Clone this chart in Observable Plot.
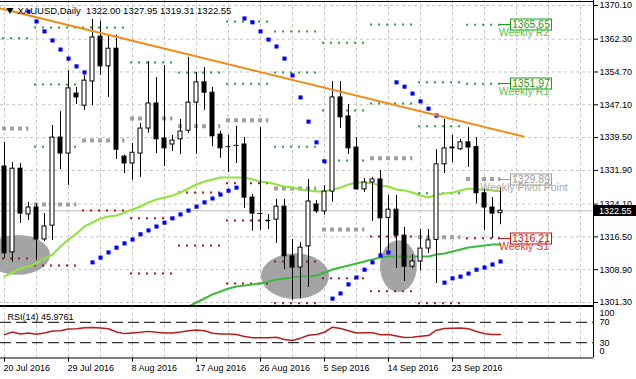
<!DOCTYPE html>
<html>
<head>
<meta charset="utf-8">
<script src="https://cdn.jsdelivr.net/npm/d3@7"></script>
<script src="https://cdn.jsdelivr.net/npm/@observablehq/plot@0.6"></script>
<style>
html,body{margin:0;padding:0;background:#fff;overflow:hidden;}
#wrap{width:636px;height:379px;position:relative;}
#wrap svg{display:block;}
.sep{height:2px;width:594px;background:#000;}
</style>
</head>
<body>
<div id="wrap"></div>
<script>
const FONT = "'Liberation Sans', Arial, sans-serif";

// ---------- data ----------
const title = "XAUUSD,Daily\u00a0\u00a01322.00 1327.95 1319.31 1322.55";
const dateLabels = ["20 Jul 2016","29 Jul 2016","8 Aug 2016","17 Aug 2016","26 Aug 2016","5 Sep 2016","14 Sep 2016","23 Sep 2016"];
const dateLabelBars = [0,8,16,24,32,40,48,56];
const gridBars = [0,4,8,12,16,20,24,28,32,36,40,44,48,52,56,60,64,68,72];
const priceTicks = [1370.10,1362.30,1354.70,1347.10,1339.50,1331.90,1324.10,1316.50,1308.90,1301.30];

const open  = [1332.8,1312.9,1332.3,1321.7,1323.3,1315.9,1319.1,1339.5,1335.8,1349.7,1346.9,1352.5,1362.9,1356.0,1360.1,1335.1,1333.5,1335.8,1341.6,1347.4,1339.3,1337.9,1339.1,1341.1,1347.6,1352.3,1349.9,1340.2,1337.4,1337.7,1337.9,1325.6,1321.9,1320.3,1320.5,1323.5,1312.0,1309.4,1314.3,1324.0,1322.4,1327.0,1348.8,1344.4,1337.2,1327.5,1329.1,1329.8,1320.9,1322.8,1316.8,1309.6,1310.8,1313.8,1315.8,1333.3,1337.0,1336.8,1338.4,1337.3,1326.6,1323.3,1322.00];
const high  = [1338.4,1333.7,1333.5,1324.5,1324.2,1321.9,1342.3,1345.5,1355.0,1351.1,1353.9,1366.9,1366.4,1363.2,1363.2,1335.4,1338.1,1342.8,1357.1,1353.4,1356.2,1340.0,1343.7,1358.1,1354.6,1355.7,1351.1,1340.9,1340.0,1342.1,1339.5,1326.3,1341.8,1321.7,1325.2,1325.2,1315.9,1315.2,1329.8,1324.9,1328.4,1352.5,1352.5,1347.2,1339.5,1330.0,1330.3,1331.9,1326.1,1326.1,1318.7,1312.4,1318.2,1318.2,1336.7,1343.7,1340.0,1339.1,1341.8,1339.5,1327.5,1325.6,1327.95];
const low   = [1311.5,1310.6,1319.6,1320.3,1311.0,1315.4,1315.7,1332.1,1328.4,1347.2,1345.8,1346.9,1353.9,1348.8,1334.4,1331.2,1329.6,1330.3,1340.5,1335.8,1332.8,1336.3,1335.6,1340.5,1335.6,1345.8,1337.4,1334.7,1331.4,1333.5,1323.1,1317.8,1318.0,1318.2,1315.0,1308.9,1301.8,1302.2,1304.8,1321.9,1321.5,1324.5,1341.6,1335.6,1327.3,1326.8,1320.1,1312.4,1313.3,1309.2,1306.2,1309.2,1308.7,1312.6,1305.7,1331.2,1333.7,1336.5,1332.6,1324.2,1318.0,1316.1,1319.31];
const close = [1312.7,1332.3,1321.9,1323.3,1315.9,1318.9,1339.5,1335.8,1350.9,1348.8,1352.7,1362.7,1356.0,1360.1,1336.7,1333.5,1336.0,1341.6,1347.4,1339.1,1337.0,1338.8,1340.9,1347.6,1352.3,1349.9,1339.8,1337.0,1337.4,1337.7,1325.6,1321.9,1321.9,1320.3,1323.5,1312.0,1309.4,1314.0,1324.7,1322.4,1327.0,1348.8,1344.2,1337.0,1327.5,1329.1,1329.8,1320.8,1322.8,1316.8,1309.6,1310.8,1313.8,1315.7,1333.3,1337.0,1337.2,1338.4,1337.2,1326.6,1323.3,1321.9,1322.55];

const sar = [null,null,null,1368.7,1366.4,1364.1,1362.0,1359.9,1357.8,1356.0,1354.6,1310.6,1311.7,1312.9,1314.0,1315.0,1315.9,1317.1,1318.0,1318.9,1319.8,1320.8,1321.7,1322.6,1323.5,1324.5,1325.4,1326.3,1327.2,1327.9,1367.1,1366.2,1364.1,1362.2,1360.6,1357.8,1353.9,1348.8,1343.2,1338.4,1334.0,1302.2,1303.4,1305.5,1307.1,1308.9,1310.6,1312.2,1312.9,1352.3,1351.3,1349.7,1347.9,1346.2,1344.6,1305.9,1306.9,1307.3,1308.0,1308.9,1309.4,1310.1,1310.8];

const maFast = [1307.33,1308.25,1309.18,1309.64,1310.34,1311.50,1312.42,1314.27,1315.90,1317.29,1318.91,1319.83,1320.76,1321.22,1321.46,1322.15,1322.85,1323.54,1324.47,1325.16,1325.63,1326.09,1326.78,1327.71,1328.64,1329.33,1329.79,1330.26,1330.26,1330.26,1330.26,1329.79,1329.33,1329.10,1328.64,1328.17,1327.94,1327.48,1327.25,1327.01,1327.01,1327.48,1327.94,1328.64,1329.10,1329.10,1328.87,1328.40,1328.17,1327.48,1327.25,1326.78,1326.09,1325.63,1326.32,1326.55,1326.78,1327.25,1327.71,1327.48,1327.48,1327.25,1327.01];
const maSlow = [null,null,null,null,null,null,null,null,null,null,null,null,null,null,null,null,null,null,null,null,null,null,1299.45,1300.37,1301.30,1302.23,1303.16,1303.85,1304.55,1305.01,1305.24,1305.47,1305.70,1306.17,1306.63,1306.86,1307.09,1307.33,1307.33,1307.56,1308.25,1308.95,1309.41,1309.87,1310.34,1310.80,1311.26,1311.73,1311.96,1311.96,1311.96,1311.96,1311.96,1311.96,1312.42,1312.65,1313.12,1313.58,1314.04,1314.27,1314.51,1314.74,1314.74];

const rsi = [45.9,51.0,47.1,49.0,46.5,49.0,52.9,53.5,56.7,57.3,59.2,59.8,58.6,57.3,51.0,47.8,49.0,50.3,52.2,50.3,49.0,49.0,51.0,53.5,54.8,53.5,48.4,47.1,47.1,45.9,42.1,39.5,39.5,39.5,40.8,36.3,34.4,38.9,44.6,45.9,50.5,60.5,58.0,53.5,49.0,49.5,49.5,45.5,46.0,43.0,40.0,40.5,42.5,44.0,54.5,58.0,58.5,59.0,57.5,52.0,47.5,46.0,45.98];
const rsiLevels = [70,30];
const rsiLabel = "RSI(14) 45.9761";

// weekly pivot segments
const weekStart = [0,4,10,16,22,28,34,40,46,52,58];
const weekEnd   = [3,9,15,21,27,33,39,45,51,57,62];
const pivotWeek  = [0,0,0, 1,1,1,1,1, 2,2,2, 3,3,3,3, 4,4,4,4, 5,5,5,5,5,5, 6,6,6,6,6,6, 7,7,7,7,7, 8,8,8,8,8, 9,9,9,9,9, 10,10,10,10];
const pivotLevel = [1362.5,1341.6,1311.5, 1365.0,1351.8,1337.4,1324.0,1309.9, 1365.0,1338.8,1322.6, 1356.9,1343.9,1320.8,1308.0, 1354.6,1342.1,1326.8,1314.5, 1366.4,1352.0,1343.5,1328.9,1320.3,1305.7, 1364.1,1354.6,1337.4,1327.7,1310.8,1301.1, 1361.5,1345.8,1334.2,1318.2,1306.9, 1365.7,1347.4,1334.7,1316.6,1303.9, 1352.3,1342.1,1326.6,1316.4,1301.1, 1365.65,1351.97,1329.89,1316.21];
const pivotKind  = ["R","P","S", "R","R","R","P","S", "R","P","S", "R","P","S","S", "R","P","S","S", "R","R","P","S","S","S", "R","R","R","P","S","S", "R","R","R","P","S", "R","R","P","S","S", "R","R","R","P","S", "R","R","P","S"];

const labelNames  = ["Weekly R2","Weekly R1","Weekly Pivot Point","Weekly S1"];
const labelValues = [1365.65,1351.97,1329.89,1316.21];
const labelKinds  = ["R","R","P","S"];

const trendBars   = [-0.5, 64.875];
const trendPrices = [1369.4, 1339.75];

const ellipseBar       = [1.75, 36.375, 49.3];
const ellipsePrice     = [1312.2, 1307.3, 1309.6];
const ellipseHalfBars  = [4.0, 4.25, 2.3];
const ellipseHalfPrice = [4.6, 5.3, 6.0];

// ---------- styles ----------
const kindColor = {R:"#2ea043", P:"#a0a0a0", S:"#9b1c1c"};
const boxColor  = {R:"#1f9a1f", P:"#9a9a9a", S:"#c01818"};
const nameColor = {R:"#55c455", P:"#aaaaaa", S:"#d23a3a"};

const bars = open.map((_, i) => i);
const candles = bars.map(i => ({i, o: open[i], h: high[i], l: low[i], c: close[i]}));
const pivots = pivotLevel.map((v, j) => ({v, k: pivotKind[j], a: weekStart[pivotWeek[j]] - 0.25, b: weekEnd[pivotWeek[j]] + 0.05}));
const XD = [-0.5, 73.625];

function ellipseMark(index, scales) {
  const g = d3.create("svg:g").attr("fill", "#a4a4a4");
  ellipseBar.forEach((b, i) => {
    const cx = scales.x(b), cy = scales.y(ellipsePrice[i]);
    g.append("ellipse").attr("cx", cx).attr("cy", cy)
      .attr("rx", scales.x(b + ellipseHalfBars[i]) - cx)
      .attr("ry", scales.y(ellipsePrice[i] - ellipseHalfPrice[i]) - cy);
  });
  return g.node();
}

function labelMark(index, scales) {
  const g = d3.create("svg:g").attr("font-family", FONT).attr("font-size", 10.5);
  const last = weekEnd[weekEnd.length - 1];
  labelValues.forEach((v, i) => {
    const k = labelKinds[i];
    const y = Math.round(scales.y(v)) + 0.5;
    const x0 = scales.x(last), xb = scales.x(last + 1.25), xe = scales.x(last + 6.375);
    g.append("line").attr("x1", x0).attr("x2", xb).attr("y1", y).attr("y2", y).attr("stroke", boxColor[k]);
    g.append("rect").attr("x", Math.round(xb) + 0.5).attr("y", y - 5.5).attr("width", Math.round(xe - xb)).attr("height", 11)
      .attr("fill", "none").attr("stroke", boxColor[k]);
    g.append("text").attr("x", (xb + xe) / 2 + 0.5).attr("y", y).attr("dy", "0.36em").attr("text-anchor", "middle")
      .attr("fill", boxColor[k]).text(v.toFixed(2));
    g.append("text").attr("x", scales.x(last + 3)).attr("y", y + 8).attr("dy", "0.36em").attr("text-anchor", "middle")
      .attr("fill", nameColor[k]).text(labelNames[i]);
  });
  return g.node();
}

function priceTagMark(index, scales, values, dim) {
  const g = d3.create("svg:g").attr("font-family", FONT).attr("font-size", 9).attr("text-anchor", "start");
  const y = Math.round(scales.y(close[close.length - 1]));
  const x0 = dim.width - dim.marginRight + 1;
  g.append("rect").attr("x", x0).attr("y", y - 5).attr("width", dim.marginRight).attr("height", 11).attr("fill", "#000");
  g.append("text").attr("x", x0 + 5).attr("y", y + 0.5).attr("dy", "0.35em").attr("text-anchor", "start")
    .attr("fill", "#fff").text(close[close.length - 1].toFixed(2));
  return g.node();
}

function frameTop(index, scales, values, dim) {
  const g = d3.create("svg:g");
  g.append("line").attr("x1", 0).attr("x2", dim.width - dim.marginRight + 1).attr("y1", 1.5).attr("y2", 1.5).attr("stroke", "#000");
  return g.node();
}

const main = Plot.plot({
  width: 636, height: 305,
  marginTop: 0, marginBottom: 0, marginLeft: 0, marginRight: 43,
  style: {fontFamily: FONT, fontSize: "9px", background: "#fff", color: "#000", overflow: "visible"},
  x: {domain: XD, axis: null},
  y: {domain: [1300.607, 1371.258], axis: "right", ticks: priceTicks, tickFormat: d => d.toFixed(2), tickSize: 4, tickPadding: 2, label: null},
  marks: [
    Plot.ruleX(gridBars, {stroke: "#c4c4c4", strokeDasharray: "3,3"}),
    Plot.ruleY(priceTicks, {stroke: "#c4c4c4", strokeDasharray: "3,3"}),
    Plot.ruleY([close[close.length - 1]], {stroke: "#bdbdbd"}),
    ellipseMark,
    Plot.ruleY(pivots.filter(d => d.k === "P"), {y: "v", x1: "a", x2: "b", stroke: kindColor.P, strokeWidth: 4, strokeDasharray: "4,4"}),
    Plot.ruleY(pivots.filter(d => d.k !== "P"), {y: "v", x1: "a", x2: "b", stroke: d => kindColor[d.k], strokeWidth: 2, strokeDasharray: "2,6"}),
    Plot.line(bars, {x: i => i, y: i => maFast[i], stroke: "#8fe33a", strokeWidth: 2}),
    Plot.line(bars.filter(i => maSlow[i] != null), {x: i => i, y: i => maSlow[i], stroke: "#3dba3d", strokeWidth: 2, clip: true}),
    Plot.ruleX(candles, {x: "i", y1: "l", y2: "h", stroke: "#000"}),
    Plot.rect(candles.filter(d => d.o !== d.c), {x1: d => d.i - 0.25, x2: d => d.i + 0.25, y1: "o", y2: "c",
      fill: d => d.c > d.o ? "#fff" : "#000", stroke: "#000"}),
    Plot.ruleY(candles.filter(d => d.o === d.c), {y: "c", x1: d => d.i - 0.3, x2: d => d.i + 0.3, stroke: "#000"}),
    Plot.dot(bars.filter(i => sar[i] != null), {x: i => i, y: i => sar[i], symbol: "square", r: 2.3, fill: "#0000ff"}),
    Plot.line(trendBars, {x: d => d, y: (d, i) => trendPrices[i], stroke: "#f28a18", strokeWidth: 2}),
    labelMark,
    Plot.ruleX([XD[1]], {stroke: "#000"}),
    frameTop,
    priceTagMark,
    Plot.dot([0], {frameAnchor: "top-left", dx: 9.5, dy: 9.5, symbol: "triangle", rotate: 180, r: 2.6, fill: "#000"}),
    Plot.text([title], {frameAnchor: "top-left", dx: 17, dy: 10, lineAnchor: "middle", textAnchor: "start", fontSize: 9.5, fill: "#000"})
  ]
});

const rsiPlot = Plot.plot({
  width: 636, height: 72,
  marginTop: 0, marginBottom: 21, marginLeft: 0, marginRight: 43,
  style: {fontFamily: FONT, fontSize: "9px", background: "#fff", color: "#000", overflow: "visible"},
  x: {domain: XD, axis: null},
  y: {domain: [0, 100], range: [50.5, -0.5], axis: null},
  marks: [
    Plot.ruleX(gridBars, {y1: 0, y2: 100, stroke: "#c4c4c4", strokeDasharray: "3,3"}),
    Plot.ruleY(rsiLevels, {stroke: "#000", strokeDasharray: "11,5"}),
    Plot.line(bars, {x: i => i, y: i => rsi[i], stroke: "#b51f1f"}),
    Plot.ruleY([0], {stroke: "#000"}),
    Plot.ruleX([XD[1]], {y1: 0, y2: 100, stroke: "#000"}),
    Plot.ruleX(dateLabelBars, {y1: 0, y2: -8, stroke: "#000"}),
    Plot.text(dateLabels, {x: (d, i) => dateLabelBars[i], y: () => 0, dy: 10, dx: -1, textAnchor: "start", lineAnchor: "middle", fill: "#000"}),
    Plot.text(rsiLevels, {y: d => d, text: d => String(d), frameAnchor: "right", dx: 6, textAnchor: "start", fill: "#000"}),
    Plot.text(["100"], {y: () => 100, frameAnchor: "right", dx: 6, dy: 6.5, textAnchor: "start", fill: "#000"}),
    Plot.text(["0"], {y: () => 0, frameAnchor: "right", dx: 6, dy: -6.5, textAnchor: "start", fill: "#000"}),
    Plot.text([rsiLabel], {frameAnchor: "top-left", dx: 7, dy: 10, lineAnchor: "middle", textAnchor: "start", fill: "#000"})
  ]
});

const wrap = document.getElementById("wrap");
wrap.appendChild(main);
const sep = document.createElement("div"); sep.className = "sep";
wrap.appendChild(sep);
wrap.appendChild(rsiPlot);
</script>
</body>
</html>
